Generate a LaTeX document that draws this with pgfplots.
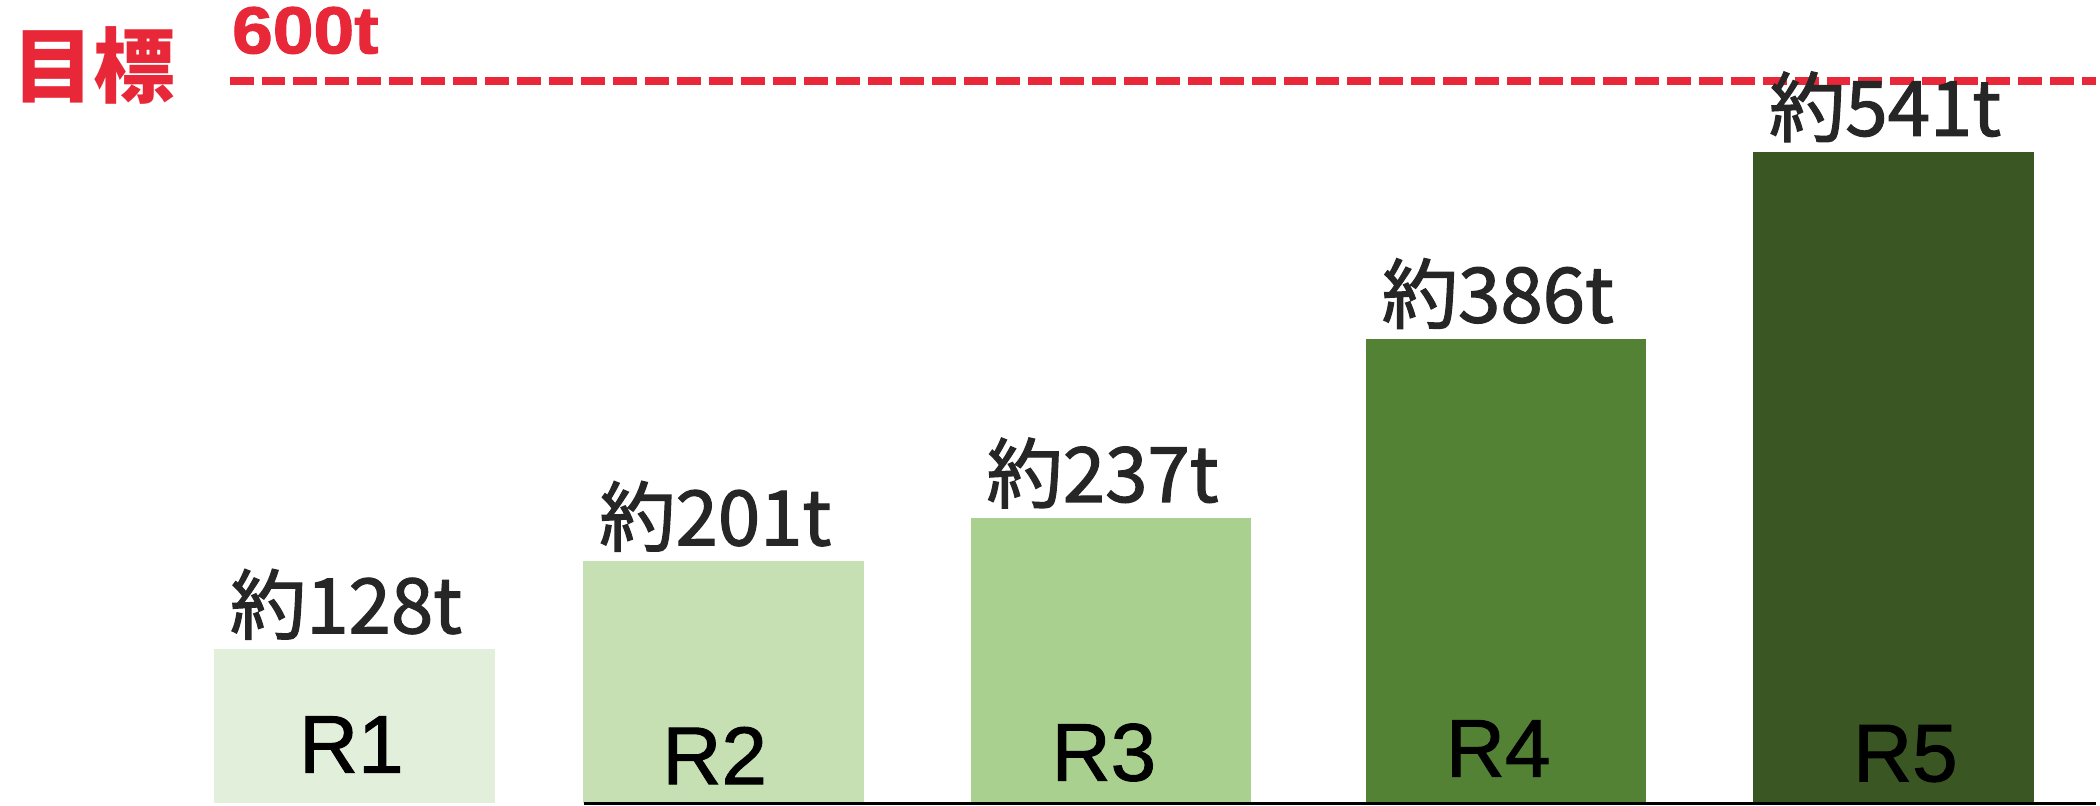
\documentclass[border=0pt]{standalone}
\usepackage{fontspec}
\setmainfont{Liberation Sans}
\newfontfamily\jp[FakeBold=1.6]{Noto Sans CJK JP}
\newfontfamily\jpb{Noto Sans CJK JP}
\newfontfamily\rfont[FakeBold=1.2]{Liberation Sans}
\newfontfamily\tfont[FakeBold=1.5]{Liberation Sans Bold}
\usepackage{pgfplots}
\pgfplotsset{compat=1.18}
\definecolor{rA}{HTML}{E2EFDA}
\definecolor{rB}{HTML}{C6E0B4}
\definecolor{rC}{HTML}{A9D08E}
\definecolor{rD}{HTML}{548235}
\definecolor{rE}{HTML}{3A5723}
\definecolor{tgt}{RGB}{232,40,56}
\definecolor{lbl}{HTML}{262626}
\begin{document}
\begin{tikzpicture}
\begin{axis}[
  scale only axis,
  width=756pt, height=290.52pt,
  xmin=0, xmax=2100,
  ymin=-1.657, ymax=667.1,
  axis lines=none,
  clip=false,
  ybar, bar width=281, bar shift=0pt,
  nodes near coords,
  point meta=explicit symbolic,
  every node near coord/.append style={anchor=base, yshift=5.8pt, xshift=-3pt, inner sep=0pt,
     text=lbl, font=\jp\fontsize{27.5}{30}\selectfont},
]
\path (rel axis cs:0,0) rectangle (rel axis cs:1,1);
\addplot[fill=rA, draw=none] coordinates {(355,128) [約128t]};
\addplot[fill=rB, draw=none] coordinates {(725,201) [約201t]};
\addplot[fill=rC, draw=none] coordinates {(1113,237) [約237t]};
\addplot[fill=rD, draw=none] coordinates {(1509,386) [約386t]};
\addplot[fill=rE, draw=none] coordinates {(1897,541) [約541t]};
% baseline
\addplot[sharp plot, no marks, nodes near coords={}, black, line width=0.9pt, forget plot] coordinates {(585,0) (2100,0)};
% target line
\addplot[sharp plot, no marks, nodes near coords={}, tgt, line width=2.88pt, dash pattern=on 8.64pt off 2.88pt, forget plot] coordinates {(230,600) (2100,600)};
% category labels inside bars
\node[font=\rfont\fontsize{29.5}{32}\selectfont, inner sep=0pt] at (axis cs:352,48.9) {R1};
\node[font=\rfont\fontsize{29.5}{32}\selectfont, inner sep=0pt] at (axis cs:716,39.8) {R2};
\node[font=\rfont\fontsize{29.5}{32}\selectfont, inner sep=0pt] at (axis cs:1106,42.3) {R3};
\node[font=\rfont\fontsize{29.5}{32}\selectfont, inner sep=0pt] at (axis cs:1501,45.6) {R4};
\node[font=\rfont\fontsize{29.5}{32}\selectfont, inner sep=0pt] at (axis cs:1909,41.4) {R5};
% target labels
\node[font=\jpb\bfseries\fontsize{29.5}{32}\selectfont, text=tgt, inner sep=0pt] at (axis cs:94,612.7) {目標};
\node[font=\tfont\fontsize{24}{26}\selectfont, text=tgt, inner sep=0pt, anchor=west] at (axis cs:232,641.8) {\scalebox{1.1}[1]{600t}};
\end{axis}
\end{tikzpicture}
\end{document}
